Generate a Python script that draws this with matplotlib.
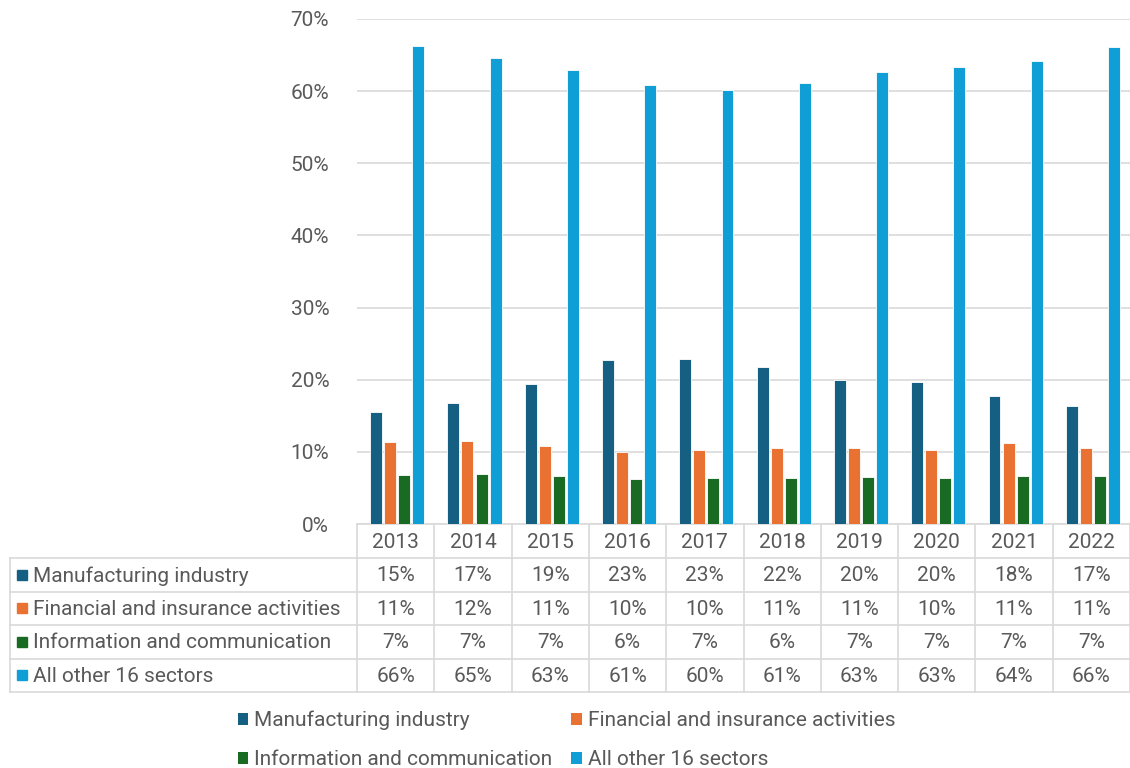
import matplotlib
matplotlib.use("Agg")
import matplotlib.pyplot as plt
import matplotlib.transforms as mtransforms
from matplotlib.patches import Rectangle, Patch
import numpy as np

plt.rcParams['font.family'] = ['Roboto', 'DejaVu Sans']

years = ["2013", "2014", "2015", "2016", "2017", "2018", "2019", "2020", "2021", "2022"]
series_names = ["Manufacturing industry", "Financial and insurance activities",
                "Information and communication", "All other 16 sectors"]
manufacturing = [15.5, 16.8, 19.4, 22.8, 22.9, 21.7, 20.0, 19.7, 17.8, 16.4]
financial = [11.4, 11.5, 10.8, 10.0, 10.3, 10.6, 10.5, 10.3, 11.2, 10.5]
information = [6.8, 7.0, 6.6, 6.3, 6.4, 6.4, 6.5, 6.4, 6.6, 6.7]
other = [66.2, 64.6, 62.9, 60.8, 60.2, 61.1, 62.7, 63.3, 64.2, 66.1]
table_manufacturing = ["15%", "17%", "19%", "23%", "23%", "22%", "20%", "20%", "18%", "17%"]
table_financial = ["11%", "12%", "11%", "10%", "10%", "11%", "11%", "10%", "11%", "11%"]
table_information = ["7%", "7%", "7%", "6%", "7%", "6%", "7%", "7%", "7%", "7%"]
table_other = ["66%", "65%", "63%", "61%", "60%", "61%", "63%", "63%", "64%", "66%"]
y_ticks = [0, 10, 20, 30, 40, 50, 60, 70]

colors = ["#156082", "#E97132", "#196B24", "#0F9ED5"]
values = [manufacturing, financial, information, other]
table_rows = [table_manufacturing, table_financial, table_information, table_other]

W, H = 1130, 768
fig = plt.figure(figsize=(W / 100, H / 100), dpi=100)

# overlay in pixel coordinates (for table frame)
ov = fig.add_axes([0, 0, 1, 1], zorder=0)
ov.set_xlim(0, W)
ov.set_ylim(H, 0)
ov.axis('off')

left, right, top, bottom = 357, 1130, 19, 524
ax = fig.add_axes([left / W, (H - bottom) / H, (right - left) / W, (bottom - top) / H], zorder=1)
ax.set_facecolor('none')

x = np.arange(len(years))
pitch = 0.182
bw = 0.155
for i, (vals, c, name) in enumerate(zip(values, colors, series_names)):
    ax.bar(x + (i - 1.5) * pitch + 0.02, vals, width=bw, color=c, edgecolor='white',
           linewidth=0.6, label=name, zorder=3)

fs = 15
ax.set_xlim(-0.5, len(years) - 0.5)
ax.set_ylim(0, 70)
ax.set_yticks(y_ticks)
ax.set_yticklabels([f"{t}%" for t in y_ticks])
ax.tick_params(axis='y', length=0, pad=20, labelsize=fs, labelcolor='#595959')
ax.set_xticks([])
ax.grid(axis='y', color='#D9D9D9', linewidth=1.2, zorder=0)
for s in ax.spines.values():
    s.set_visible(False)

# table
trans = mtransforms.blended_transform_factory(ax.transData, ov.transData)
row_edges = [524, 558, 591.5, 625, 658.5, 692]
tab_left = 10
grid_c = '#D9D9D9'
tcol = '#595959'
# horizontal lines
ov.plot([left, right], [row_edges[0], row_edges[0]], color=grid_c, lw=1.2)
for yy in row_edges[1:]:
    ov.plot([tab_left, right], [yy, yy], color=grid_c, lw=1.2)
ov.plot([tab_left, tab_left], [row_edges[1], row_edges[-1]], color=grid_c, lw=1.2)
# vertical column lines (data positions)
for k in range(len(years) + 1):
    ax.plot([k - 0.5, k - 0.5], [row_edges[0], row_edges[-1]], color=grid_c, lw=1.2,
            transform=trans, clip_on=False)
# header
for k, yr in enumerate(years):
    ax.text(k, (row_edges[0] + row_edges[1]) / 2 + 1, yr, transform=trans, ha='center',
            va='center', fontsize=fs, color=tcol, clip_on=False)
# rows
for r, (name, c, labels) in enumerate(zip(series_names, colors, table_rows)):
    yc = (row_edges[r + 1] + row_edges[r + 2]) / 2
    ov.add_patch(Rectangle((17, yc - 5), 10, 10, color=c))
    ov.text(33, yc + 1, name, ha='left', va='center', fontsize=fs, color=tcol)
    for k, lab in enumerate(labels):
        ax.text(k, yc + 1, lab, transform=trans, ha='center', va='center',
                fontsize=fs, color=tcol, clip_on=False)

# legend
handles = [Patch(facecolor=c, edgecolor='none') for c in colors]
order = [0, 2, 1, 3]
leg = fig.legend([handles[i] for i in order], [series_names[i] for i in order],
                 loc='upper left', bbox_to_anchor=(219 / W, 1 - 692 / H), ncol=2,
                 frameon=False, fontsize=fs, handlelength=0.5, handleheight=0.5,
                 handletextpad=0.3, columnspacing=0.9, labelspacing=0.95,
                 labelcolor=tcol)

fig.savefig("out.png", dpi=100)
